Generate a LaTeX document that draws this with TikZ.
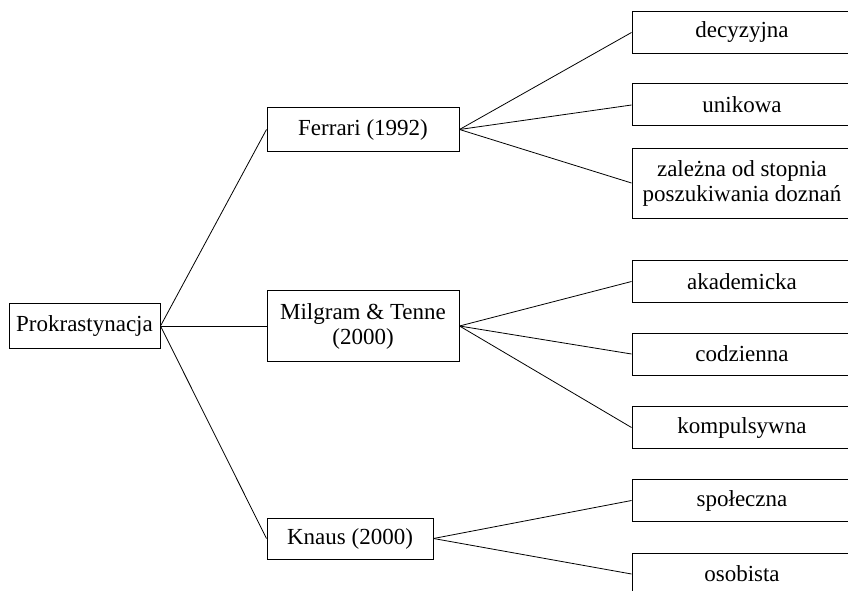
\documentclass[tikz,border=0pt]{standalone}
\usepackage{fontspec}
\setmainfont{Liberation Serif}

\begin{document}
\begin{tikzpicture}[x=1pt,y=-1pt,line width=0.8pt,
    box/.style={draw,line width=1pt,align=center,inner sep=0pt,
      font=\fontsize{23}{25}\selectfont},
    mid/.style={box,minimum width=192pt,minimum height=43pt},
    leaf/.style={box,minimum width=220pt,minimum height=42pt}]
        \useasboundingbox (0,0) rectangle (848,591);
        \clip (0,0) rectangle (848,591);

        % Nodes
        \node[box,minimum width=151pt,minimum height=45pt] (root) at (84.5,326) {Prokrastynacja};
        \node[mid] (ferrari) at (363,129.5) {Ferrari (1992)};
        \node[mid,minimum height=71pt] (milgram) at (363,326) {Milgram \& Tenne\\(2000)};
        \node[mid,minimum width=166pt,minimum height=41pt] (knaus) at (350,538.5) {Knaus (2000)};

        \node[leaf] (decyz) at (742,32.5) {decyzyjna};
        \node[leaf] (unik) at (742,105) {unikowa};
        \node[leaf,minimum height=70pt] (zalez) at (742,183) {zależna od stopnia\\poszukiwania doznań};
        \node[leaf] (akadem) at (742,281.5) {akademicka};
        \node[leaf] (codz) at (742,354) {codzienna};
        \node[leaf] (kompul) at (742,427.5) {kompulsywna};
        \node[leaf] (spol) at (742,500.5) {społeczna};
        \node[leaf] (osob) at (742,574) {osobista};

        % Connections
        \draw (root.east) -- (ferrari.west);
        \draw (root.east) -- (milgram.west);
        \draw (root.east) -- (knaus.west);
        \draw (ferrari.east) -- (decyz.west);
        \draw (ferrari.east) -- (unik.west);
        \draw (ferrari.east) -- (zalez.west);
        \draw (milgram.east) -- (akadem.west);
        \draw (milgram.east) -- (codz.west);
        \draw (milgram.east) -- (kompul.west);
        \draw (knaus.east) -- (spol.west);
        \draw (knaus.east) -- (osob.west);
    \end{tikzpicture}
\end{document}
